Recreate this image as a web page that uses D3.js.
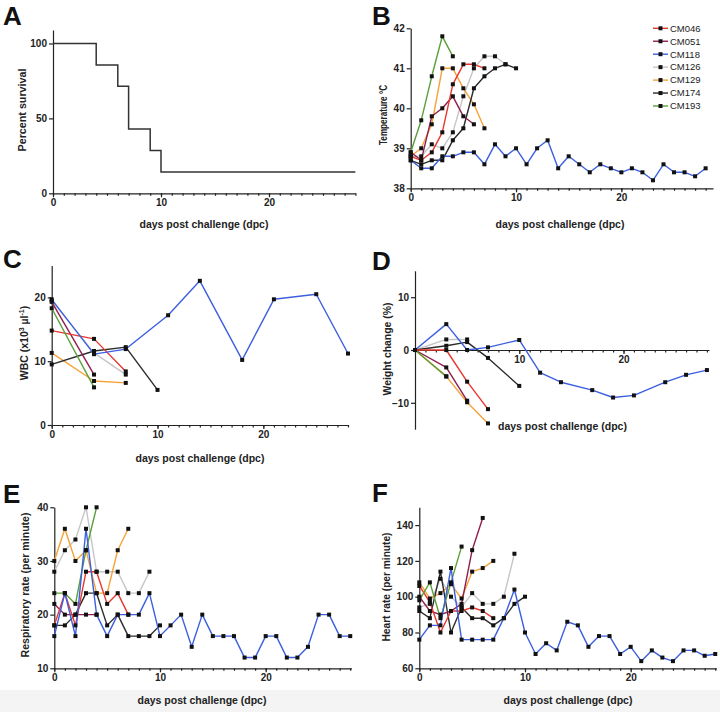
<!DOCTYPE html>
<html><head><meta charset="utf-8">
<script src="https://cdn.jsdelivr.net/npm/d3@7"></script>
<style>
body{margin:0;background:#fff;}
svg{display:block;font-family:"Liberation Sans",Arial,sans-serif;}
</style></head><body>
<svg id="chart" width="720" height="712"></svg>
<script>
// ---------- DATA ----------
const seriesNames = ["CM046","CM051","CM118","CM126","CM129","CM174","CM193"];
const seriesColors = ["#e8372c","#8e1f4f","#3c5fe0","#c6c6c6","#f5a23a","#2b2b2b","#5b9f3a"];
const drawOrder = ["CM126","CM129","CM174","CM051","CM046","CM193","CM118"];

// A: survival
const survDays = [0,4,6,7,9,10,28];
const survPct  = [100,85.7,71.4,42.9,28.6,14.3,14.3];

// B: temperature (index = day)
const tempCM046 = [38.8,38.7,38.9,39.4,40.6,41.1,41.1,41.0];
const tempCM051 = [38.9,38.7,39.8,40.0,40.3,39.8,39.6];
const tempCM118 = [38.7,38.5,38.5,38.8,38.8,38.9,38.9,38.6,39.1,38.8,39.0,38.6,39.0,39.2,38.5,38.8,38.6,38.4,38.6,38.5,38.4,38.5,38.4,38.2,38.6,38.4,38.4,38.3,38.5];
const tempCM126 = [38.8,38.8,39.1,39.0,39.4,40.3,41.0,41.3,41.3,41.1];
const tempCM129 = [38.8,39.0,39.6,41.0,41.0,40.5,40.1,39.5];
const tempCM174 = [38.7,38.6,38.7,38.7,39.2,39.5,40.5,40.8,41.0,41.1,41.0];
const tempCM193 = [38.9,39.7,40.8,41.8,41.3];

// C: WBC [day, value]
const wbcCM046 = [[0,14.8],[4,13.5],[7,8.4]];
const wbcCM051 = [[0,19.3],[4,7.9]];
const wbcCM118 = [[0,19.7],[4,11.1],[7,11.9],[11,17.2],[14,22.6],[18,10.2],[21,19.7],[25,20.5],[28,11.2]];
const wbcCM126 = [[0,19.5],[4,11.3],[7,7.9]];
const wbcCM129 = [[0,11.3],[4,6.9],[7,6.6]];
const wbcCM174 = [[0,9.5],[4,11.6],[7,12.2],[10,5.5]];
const wbcCM193 = [[0,18.3],[4,5.9]];

// D: weight change [day, %]
const wtCM046 = [[0,0],[3,0],[5,-6.0],[7,-11.2]];
const wtCM051 = [[0,0],[3,-3.3],[5,-9.6]];
const wtCM118 = [[0,0],[3,4.9],[5,0],[7,0.5],[10,1.9],[12,-4.3],[14,-6.1],[17,-7.6],[19,-9.0],[21,-8.6],[24,-6.1],[26,-4.7],[28,-3.8]];
const wtCM126 = [[0,0],[3,2.0],[5,2.0]];
const wtCM129 = [[0,0],[3,-5.0],[5,-9.9],[7,-13.9]];
const wtCM174 = [[0,0],[3,0.8],[5,1.5],[7,-1.5],[10,-6.8]];
const wtCM193 = [[0,0],[3,-5.0]];

// E: respiratory rate (index = day)
const rrCM046 = [18,24,18,28,28,22,24,20];
const rrCM051 = [22,20,20,20,20];
const rrCM118 = [16,24,16,36,20,16,20,20,20,24,16,18,20,14,20,16,16,16,12,12,16,16,12,12,14,20,20,16,16];
const rrCM126 = [28,32,34,40,28,28,28,24,24,28];
const rrCM129 = [30,36,30,32,24,24,32,36];
const rrCM174 = [18,18,20,24,24,18,20,16,16,16,18];
const rrCM193 = [24,24,22,32,40];

// F: heart rate (index = day)
const hrCM046 = [106,97,80,92,92,94,92,88];
const hrCM051 = [100,92,90,92,96,126,144];
const hrCM118 = [76,84,84,116,76,76,76,76,88,104,80,68,74,70,86,84,72,78,78,68,72,64,70,66,64,70,70,67,68];
const hrCM126 = [94,96,110,100,94,102,96,96,100,124];
const hrCM129 = [108,99,102,107,99,114,116,120];
const hrCM174 = [92,88,114,80,94,88,88,84,88,96,100];
const hrCM193 = [98,108,88,108,128];

const xMajorTicks = [0,10,20];
const xTitleText = "days post challenge (dpc)";

// ---------- DRAW ----------
const svg = d3.select("#chart");
svg.append("rect").attr("x",0).attr("y",690).attr("width",720).attr("height",22).attr("fill","#f4f4f4");

const axisColor = "#222";
const fmt = d3.format("d");
function styleAxis(g){
  g.selectAll("path,line").attr("stroke",axisColor).attr("stroke-width",1.2);
  g.selectAll("text").attr("font-size",10).attr("font-weight","bold").attr("fill",axisColor)
    .attr("font-family","'Liberation Sans',Arial,sans-serif");
}

function seq(arr){ return arr.map((v,i)=>[i,v]); }

function panel(o){
  const x = d3.scaleLinear().domain(o.xd).range(o.xr);
  const y = d3.scaleLinear().domain(o.yd).range(o.yr);
  const g = svg.append("g");
  svg.append("text").attr("x",o.letter[0]).attr("y",o.letter[1]).text(o.letter[2])
    .attr("font-size",26).attr("font-weight","bold").attr("fill","#111");
  const ya = g.append("g").attr("transform",`translate(${o.xr[0]},0)`)
    .call(d3.axisLeft(y).tickValues(o.yTicks).tickFormat(fmt).tickSize(4).tickSizeOuter(0).tickPadding(2));
  styleAxis(ya);
  const axY = y(o.xAxisAt !== undefined ? o.xAxisAt : o.yd[0]);
  const minor = d3.range(0, Math.floor(o.xd[1])+1);
  const xm = g.append("g").attr("transform",`translate(0,${axY})`)
    .call(d3.axisBottom(x).tickValues(minor).tickSize(2.5).tickFormat(""));
  styleAxis(xm); xm.select(".domain").remove();
  const xa = g.append("g").attr("transform",`translate(0,${axY})`)
    .call(d3.axisBottom(x).tickValues(o.xTicks).tickFormat(fmt).tickSize(4).tickSizeOuter(0).tickPadding(2));
  styleAxis(xa);
  const yt = svg.append("text").attr("transform",`translate(${o.yTitle[0]},${o.yTitle[1]}) rotate(-90)`)
    .attr("text-anchor","middle").attr("dy","0.35em")
    .attr("font-size",10.5).attr("font-weight","bold").attr("fill","#222")
    .attr("textLength",o.yTitle[3]).attr("lengthAdjust","spacingAndGlyphs");
  o.yTitle[2](yt);
  svg.append("text").attr("x",o.xTitle[0]).attr("y",o.xTitle[1]).attr("text-anchor",o.xTitle[2]||"middle")
    .attr("font-size",10.5).attr("font-weight","bold").attr("fill","#222").text(xTitleText);
  return {x,y,g};
}

function drawSeries(p, seriesMap){
  const line = d3.line().x(d=>p.x(d[0])).y(d=>p.y(d[1]));
  drawOrder.forEach(n=>{
    const i = seriesNames.indexOf(n);
    p.g.append("path").datum(seriesMap[n]).attr("d",line).attr("fill","none")
      .attr("stroke",seriesColors[i]).attr("stroke-width",1.4).attr("stroke-linejoin","round");
  });
  drawOrder.forEach(n=>{
    p.g.append("g").selectAll("rect").data(seriesMap[n]).join("rect")
      .attr("x",d=>p.x(d[0])-2).attr("y",d=>p.y(d[1])-2).attr("width",4).attr("height",4).attr("fill","#111");
  });
}

// A
const pA = panel({xd:[0,28],xr:[53,355.4],yd:[0,109],yr:[193.3,30],yTicks:[0,50,100],xTicks:xMajorTicks,
  letter:[3,25,"A"], yTitle:[22,110,t=>t.text("Percent survival"),83], xTitle:[204,228]});
pA.g.append("path").datum(survDays.map((d,i)=>[d,survPct[i]]))
  .attr("d",d3.line().x(d=>pA.x(d[0])).y(d=>pA.y(d[1])).curve(d3.curveStepAfter))
  .attr("fill","none").attr("stroke","#333").attr("stroke-width",1.5);

// B
const pB = panel({xd:[0,28.7],xr:[410.7,713],yd:[38,42],yr:[188.3,28.3],yTicks:[38,39,40,41,42],xTicks:xMajorTicks,
  letter:[372,24.5,"B"], yTitle:[383,115,t=>t.text("Temperature °C"),60], xTitle:[560,228]});
drawSeries(pB,{CM046:seq(tempCM046),CM051:seq(tempCM051),CM118:seq(tempCM118),CM126:seq(tempCM126),
  CM129:seq(tempCM129),CM174:seq(tempCM174),CM193:seq(tempCM193)});
seriesNames.forEach((n,i)=>{
  const ly = 28.3 + i*12.95;
  const lg = svg.append("g");
  lg.append("line").attr("x1",653).attr("x2",668).attr("y1",ly).attr("y2",ly).attr("stroke",seriesColors[i]).attr("stroke-width",1.4);
  lg.append("rect").attr("x",658.5).attr("y",ly-2).attr("width",4).attr("height",4).attr("fill","#111");
  lg.append("text").attr("x",670).attr("y",ly+3.3).text(n).attr("font-size",9.5).attr("fill","#222");
});

// C
const pC = panel({xd:[0,28],xr:[51.7,348],yd:[0,25],yr:[425,265.5],yTicks:[0,10,20],xTicks:xMajorTicks,
  letter:[3,268,"C"], yTitle:[24,343,t=>{t.append("tspan").text("WBC (x10");t.append("tspan").text("3").attr("font-size",7).attr("dy","-4");
    t.append("tspan").text(" µl").attr("dy","4");t.append("tspan").text("-1").attr("font-size",7).attr("dy","-4");t.append("tspan").text(")").attr("dy","4");},null],
  xTitle:[200,462]});
drawSeries(pC,{CM046:wbcCM046,CM051:wbcCM051,CM118:wbcCM118,CM126:wbcCM126,CM129:wbcCM129,CM174:wbcCM174,CM193:wbcCM193});

// D
const pD = panel({xd:[0,28.2],xr:[415,709],yd:[-15,15],yr:[429.2,270.8],yTicks:[-10,0,10],xTicks:[10,20],xAxisAt:0,
  letter:[372,270,"D"], yTitle:[387,349,t=>t.text("Weight change (%)"),93], xTitle:[498,430,"start"]});
drawSeries(pD,{CM046:wtCM046,CM051:wtCM051,CM118:wtCM118,CM126:wtCM126,CM129:wtCM129,CM174:wtCM174,CM193:wtCM193});

// E
const pE = panel({xd:[0,28.1],xr:[54.3,351.3],yd:[10,40],yr:[668.3,507.3],yTicks:[10,20,30,40],xTicks:xMajorTicks,
  letter:[3,503,"E"], yTitle:[25,585,t=>t.text("Respiratory rate (per minute)"),145], xTitle:[202,704]});
drawSeries(pE,{CM046:seq(rrCM046),CM051:seq(rrCM051),CM118:seq(rrCM118),CM126:seq(rrCM126),
  CM129:seq(rrCM129),CM174:seq(rrCM174),CM193:seq(rrCM193)});

// F
const pF = panel({xd:[0,28.1],xr:[419.3,716.3],yd:[60,150],yr:[668.3,507.2],yTicks:[60,80,100,120,140],xTicks:xMajorTicks,
  letter:[372,502,"F"], yTitle:[386,587,t=>t.text("Heart rate (per minute)"),109], xTitle:[568,704]});
drawSeries(pF,{CM046:seq(hrCM046),CM051:seq(hrCM051),CM118:seq(hrCM118),CM126:seq(hrCM126),
  CM129:seq(hrCM129),CM174:seq(hrCM174),CM193:seq(hrCM193)});
</script></body></html>
